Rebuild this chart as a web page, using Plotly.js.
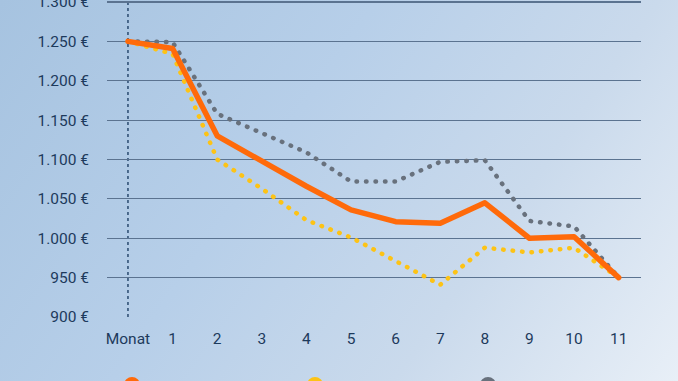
<!DOCTYPE html>
<html><head><meta charset="utf-8">
<script src="https://cdn.plot.ly/plotly-3.0.1.min.js"></script>
<style>
html,body{margin:0;padding:0;width:678px;height:381px;overflow:hidden;}
body{background:linear-gradient(125deg,#a6c3e0 0%,#b7cfe9 40%,#cadaec 70%,#e8eff7 100%);font-family:Roboto,sans-serif;}
#chart{width:678px;height:381px;}
#chart .js-line{stroke-linecap:round;stroke-linejoin:round;}
</style></head>
<body><div id="chart"></div>
<script>
const months = ["Monat","1","2","3","4","5","6","7","8","9","10","11"];
const orangeVals = [1250,1241,1130,1097,1066,1036,1021,1019,1045,1000,1002,950];
const yellowVals = [1250,1234,1100,1063,1023,1001,971,941,988,982,988,950];
const greyVals   = [1250,1249,1158,1133,1109,1072,1072,1097,1099,1022,1015,950];
const yTicks = [900,950,1000,1050,1100,1150,1200,1250,1300];
const yTickText = ["900 €","950 €","1.000 €","1.050 €","1.100 €","1.150 €","1.200 €","1.250 €","1.300 €"];

const idx = months.map((m,i)=>i);
const traces = [
  {x: idx, y: greyVals, mode:'lines', line:{color:'#68717d', width:4.5, dash:'0.5px,9px'}, showlegend:false, hoverinfo:'skip'},
  {x: idx, y: yellowVals, mode:'lines', line:{color:'#fdc315', width:4.5, dash:'0.5px,9px'}, showlegend:false, hoverinfo:'skip'},
  {x: idx, y: orangeVals, mode:'lines', line:{color:'#ff6a0a', width:5.5}, showlegend:false, hoverinfo:'skip'}
];
const textColor = '#1d3a5c';
const layout = {
  width:678, height:381,
  margin:{l:107, r:37, t:0, b:64},
  paper_bgcolor:'rgba(0,0,0,0)', plot_bgcolor:'rgba(0,0,0,0)',
  font:{family:'Roboto, sans-serif', size:15.5, color:textColor},
  xaxis:{range:[-0.47,11.5], tickvals:idx, ticktext:months, showgrid:false, zeroline:false,
         showline:false, ticks:'', ticklabelstandoff:10, tickfont:{size:15.5,color:textColor}, fixedrange:true},
  yaxis:{range:[900,1302.5], tickvals:yTicks, ticktext:yTickText, showgrid:true, gridcolor:'#5b7390', gridwidth:1.2,
         zeroline:false, showline:false, ticks:'', ticklabelstandoff:17, ticklabeloverflow:'allow',
         tickfont:{size:15.5,color:textColor}, fixedrange:true},
  shapes:[
    {type:'line', xref:'x', yref:'paper', x0:0, x1:0, y0:0, y1:1, line:{color:'#2a4a70', width:1.5, dash:'dot'}, layer:'below'},
    {type:'circle', xref:'paper', yref:'paper', x0:(124-107)/534, x1:(140-107)/534, y0:-(377-317)/317, y1:-(393-317)/317, fillcolor:'#ff6a0a', line:{width:0}},
    {type:'circle', xref:'paper', yref:'paper', x0:(307-107)/534, x1:(323-107)/534, y0:-(377-317)/317, y1:-(393-317)/317, fillcolor:'#fdc315', line:{width:0}},
    {type:'circle', xref:'paper', yref:'paper', x0:(480-107)/534, x1:(496-107)/534, y0:-(377-317)/317, y1:-(393-317)/317, fillcolor:'#68717d', line:{width:0}}
  ]
};
Plotly.newPlot('chart', traces, layout, {displayModeBar:false, staticPlot:true});
</script>
</body></html>
